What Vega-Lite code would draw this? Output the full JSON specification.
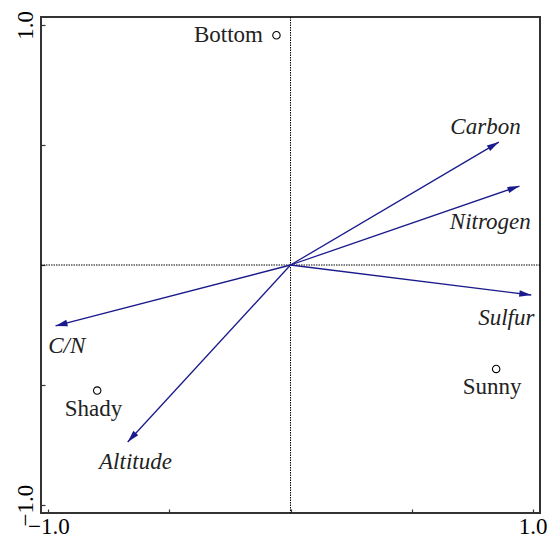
{
  "$schema": "https://vega.github.io/schema/vega-lite/v6.json",
  "width": 499,
  "height": 496,
  "autosize": "none",
  "padding": {"left": 41, "top": 17, "right": 10, "bottom": 29},
  "background": "white",
  "config": {
    "view": {"stroke": "#333333", "strokeWidth": 2},
    "axis": {
      "grid": false,
      "domain": false,
      "tickColor": "#333333",
      "tickSize": -4,
      "tickWidth": 1.2,
      "labelFont": "Liberation Serif",
      "labelFontSize": 23,
      "labelColor": "black",
      "title": null
    }
  },
  "datasets": {
    "arrows": [
      {"name": "Carbon", "x": 0.86, "y": 0.512, "lx": 0.805, "ly": 0.574},
      {"name": "Nitrogen", "x": 0.945, "y": 0.329, "lx": 0.825, "ly": 0.179},
      {"name": "Sulfur", "x": 0.994, "y": -0.125, "lx": 0.891, "ly": -0.22},
      {"name": "C/N", "x": -0.97, "y": -0.254, "lx": -0.924, "ly": -0.337},
      {"name": "Altitude", "x": -0.672, "y": -0.737, "lx": -0.64, "ly": -0.82}
    ],
    "sites": [
      {"name": "Bottom", "x": -0.058, "y": 0.957, "lx": -0.256, "ly": 0.957},
      {"name": "Sunny", "x": 0.849, "y": -0.433, "lx": 0.832, "ly": -0.51},
      {"name": "Shady", "x": -0.798, "y": -0.523, "lx": -0.813, "ly": -0.6}
    ]
  },
  "layer": [
    {
      "data": {"values": [{"v": 0}]},
      "mark": {"type": "rule", "color": "black", "strokeWidth": 1, "strokeDash": [1.5, 1]},
      "encoding": {
        "x": {"field": "v", "type": "quantitative", "scale": {"domain": [-1.03, 1.03], "nice": false, "zero": false},
          "axis": {"values": [-1, -0.5, 0, 0.5, 1], "labelExpr": "abs(datum.value) == 1 ? format(datum.value, '.1f') : ''", "labelPadding": 6}}
      }
    },
    {
      "data": {"values": [{"v": 0}]},
      "mark": {"type": "rule", "color": "black", "strokeWidth": 1, "strokeDash": [1.5, 1]},
      "encoding": {
        "y": {"field": "v", "type": "quantitative", "scale": {"domain": [-1.033, 1.033], "nice": false, "zero": false},
          "axis": {"values": [-1, -0.5, 0, 0.5, 1], "labelExpr": "abs(datum.value) == 1 ? format(datum.value, '.1f') : ''", "labelAngle": -90, "labelAlign": "center", "labelBaseline": "bottom", "labelPadding": 8}}
      }
    },
    {
      "data": {"name": "arrows"},
      "transform": [{"calculate": "0", "as": "x0"}, {"calculate": "0", "as": "y0"}],
      "mark": {"type": "rule", "color": "#1a1a8c", "strokeWidth": 1.3},
      "encoding": {
        "x": {"field": "x0", "type": "quantitative"},
        "y": {"field": "y0", "type": "quantitative"},
        "x2": {"field": "x"},
        "y2": {"field": "y"}
      }
    },
    {
      "data": {"name": "arrows"},
      "transform": [{"calculate": "atan2(datum.x, datum.y) * 180 / PI", "as": "ang"}],
      "mark": {"type": "point", "filled": true, "color": "#1a1a8c", "opacity": 1, "size": 144, "shape": "M0,0L-0.55,2L0.55,2Z"},
      "encoding": {
        "x": {"field": "x", "type": "quantitative"},
        "y": {"field": "y", "type": "quantitative"},
        "angle": {"field": "ang", "type": "quantitative", "scale": null}
      }
    },
    {
      "data": {"name": "arrows"},
      "mark": {"type": "text", "font": "Liberation Serif", "fontStyle": "italic", "fontSize": 23, "color": "#222222", "align": "center", "baseline": "middle"},
      "encoding": {
        "x": {"field": "lx", "type": "quantitative"},
        "y": {"field": "ly", "type": "quantitative"},
        "text": {"field": "name"}
      }
    },
    {
      "data": {"name": "sites"},
      "mark": {"type": "point", "filled": false, "color": "black", "size": 55, "strokeWidth": 1.1, "opacity": 1},
      "encoding": {
        "x": {"field": "x", "type": "quantitative"},
        "y": {"field": "y", "type": "quantitative"}
      }
    },
    {
      "data": {"name": "sites"},
      "mark": {"type": "text", "font": "Liberation Serif", "fontSize": 23, "color": "#222222", "align": "center", "baseline": "middle"},
      "encoding": {
        "x": {"field": "lx", "type": "quantitative"},
        "y": {"field": "ly", "type": "quantitative"},
        "text": {"field": "name"}
      }
    }
  ]
}
